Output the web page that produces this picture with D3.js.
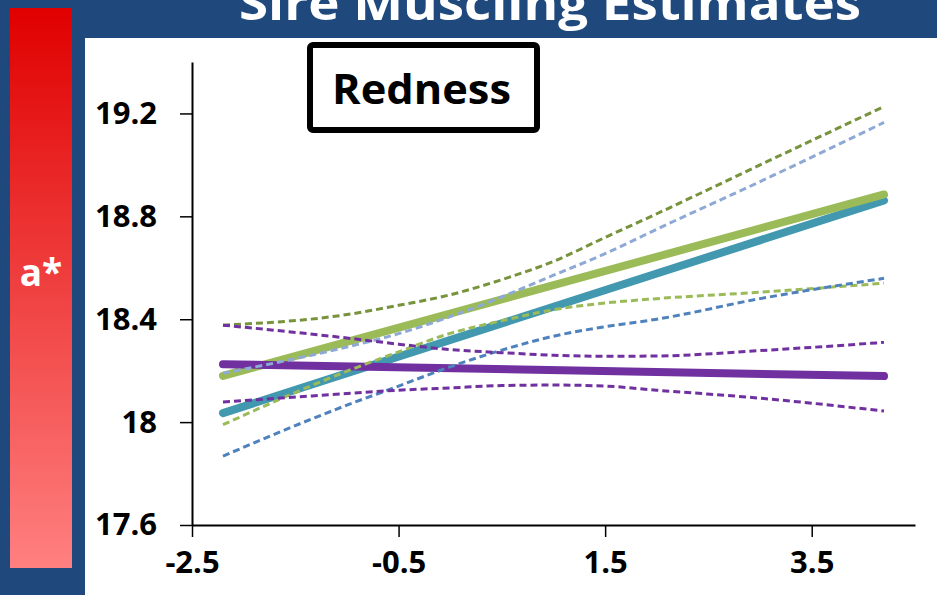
<!DOCTYPE html>
<html>
<head>
<meta charset="utf-8">
<script src="https://cdn.jsdelivr.net/npm/d3@7"></script>
<style>
  body { margin: 0; background: #1F497D; }
  svg { display: block; }
</style>
</head>
<body>
<div id="chart"></div>
<script>
const bandX = [-2.2, -1, -0.5, 0, 0.5, 1, 1.5, 2, 3, 4.2];
const greenUpper = [18.377, 18.418, 18.454, 18.495, 18.554, 18.625, 18.718, 18.81, 19.0, 19.227];
const greenLower = [17.99, 18.198, 18.273, 18.345, 18.394, 18.437, 18.463, 18.48, 18.505, 18.54];
const tealUpper = [18.19, 18.292, 18.344, 18.41, 18.487, 18.571, 18.655, 18.75, 18.935, 19.165];
const tealLower = [17.868, 18.066, 18.14, 18.215, 18.28, 18.334, 18.371, 18.40, 18.48, 18.559];
const purpleUpper = [18.377, 18.327, 18.303, 18.282, 18.27, 18.26, 18.256, 18.257, 18.278, 18.31];
const purpleLower = [18.078, 18.111, 18.124, 18.133, 18.142, 18.144, 18.14, 18.124, 18.093, 18.043];

// straight fitted lines
const fitX = [-2.2, 4.2];
const greenFit = [18.18, 18.885];
const tealFit = [18.035, 18.862];
const purpleFit = [18.225, 18.179];

const xTicks = [-2.5, -0.5, 1.5, 3.5];
const yTicks = [17.6, 18, 18.4, 18.8, 19.2];

const titleText = "Sire Muscling Estimates";
const boxText = "Redness";
const sideText = "a*";

var width = 937, height = 595;

var svg = d3.select("#chart")
    .append("svg")
    .attr("width", width)
    .attr("height", height);

var defs = svg.append("defs");
var grad = defs.append("linearGradient")
    .attr("id", "redbar")
    .attr("x1", 0).attr("y1", 0).attr("x2", 0).attr("y2", 1);
grad.append("stop").attr("offset", "0%").attr("stop-color", "#E00000");
grad.append("stop").attr("offset", "100%").attr("stop-color", "#FF8080");

// background pieces
svg.append("rect").attr("x", 0).attr("y", 0).attr("width", width).attr("height", height).attr("fill", "#1F497D");
svg.append("rect").attr("x", 85).attr("y", 38).attr("width", width - 85).attr("height", height - 38).attr("fill", "#fff");
svg.append("rect").attr("x", 10).attr("y", 8).attr("width", 62).attr("height", 560).attr("fill", "url(#redbar)");

svg.append("text")
    .attr("x", 41).attr("y", 286)
    .attr("text-anchor", "middle")
    .attr("fill", "#fff")
    .style("font", "bold 37px 'Open Sans', sans-serif")
    .text(sideText);

svg.append("text")
    .attr("x", 239).attr("y", 20)
    .attr("textLength", 622)
    .attr("lengthAdjust", "spacingAndGlyphs")
    .attr("fill", "#fff")
    .style("font", "bold 46px 'Open Sans', sans-serif")
    .text(titleText);

// scales
var x = d3.scaleLinear().domain([-2.5, 4.5]).range([192, 915]);
var y = d3.scaleLinear().domain([17.6, 19.4]).range([525, 62]);

var xAxis = svg.append("g")
    .attr("transform", "translate(0,525)")
    .call(d3.axisBottom(x).tickValues(xTicks).tickFormat(String).tickSize(12).tickPadding(14).tickSizeOuter(0));
var yAxis = svg.append("g")
    .attr("transform", "translate(192,0)")
    .call(d3.axisLeft(y).tickValues(yTicks).tickFormat(String).tickSize(12).tickPadding(23).tickSizeOuter(0));

[xAxis, yAxis].forEach(function (g) {
    g.select(".domain").attr("stroke", "#000").attr("stroke-width", 2);
    g.selectAll(".tick line").attr("stroke", "#000").attr("stroke-width", 1.5);
    g.selectAll(".tick text")
        .attr("fill", "#000")
        .style("font", "bold 31px 'Open Sans', sans-serif");
});

// lines
var line = d3.line()
    .x(function (d) { return x(d[0]); })
    .y(function (d) { return y(d[1]); });
var curved = d3.line()
    .x(function (d) { return x(d[0]); })
    .y(function (d) { return y(d[1]); })
    .curve(d3.curveMonotoneX);

const solids = [
    { vals: tealFit, color: "#4198AF" },
    { vals: greenFit, color: "#9BBB59" },
    { vals: purpleFit, color: "#7030A0" }
];
svg.append("g").selectAll("path")
    .data(solids)
    .enter().append("path")
    .attr("d", function (s) { return line(d3.zip(fitX, s.vals)); })
    .attr("fill", "none")
    .attr("stroke", function (s) { return s.color; })
    .attr("stroke-width", 8)
    .attr("stroke-linecap", "round");

const bands = [
    { vals: greenUpper, color: "#77933C" },
    { vals: greenLower, color: "#9BBB59" },
    { vals: tealUpper, color: "#8EA9D6" },
    { vals: tealLower, color: "#4F81BD" },
    { vals: purpleUpper, color: "#7030A0" },
    { vals: purpleLower, color: "#7030A0" }
];
svg.append("g").selectAll("path")
    .data(bands)
    .enter().append("path")
    .attr("d", function (s) { return curved(d3.zip(bandX, s.vals)); })
    .attr("fill", "none")
    .attr("stroke", function (s) { return s.color; })
    .attr("stroke-width", 3)
    .attr("stroke-dasharray", "7,4");

// title box
svg.append("rect")
    .attr("x", 310).attr("y", 45)
    .attr("width", 227).attr("height", 85)
    .attr("rx", 3)
    .attr("fill", "#fff")
    .attr("stroke", "#000")
    .attr("stroke-width", 6);
svg.append("text")
    .attr("x", 332).attr("y", 104)
    .attr("textLength", 179)
    .attr("lengthAdjust", "spacingAndGlyphs")
    .attr("fill", "#000")
    .style("font", "bold 41px 'Open Sans', sans-serif")
    .text(boxText);
</script>
</body>
</html>
